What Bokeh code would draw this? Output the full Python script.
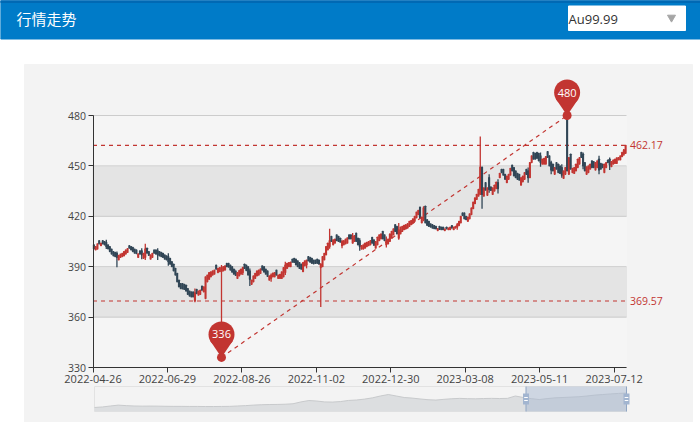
from bokeh.plotting import figure
from bokeh.models import Range1d, LinearAxis, FixedTicker
from bokeh.core.properties import value
from bokeh.embed import file_html
from bokeh.resources import INLINE

tick_labels = ["2022-04-26","2022-06-29","2022-08-26","2022-11-02","2022-12-30","2023-03-08","2023-05-11","2023-07-12"]
tick_every = 42
y_ticks = [330,360,390,420,450,480]
opens = [403,400,400.5,405.5,402.5,405.5,405,404.5,403,402,
400.5,399,398.5,398,394,395.5,396,396.5,397.5,398.5,
402.5,402,401.5,400.5,400,395.5,399.5,399.5,395,395.5,
401,399,394.5,395.5,400,400,399.5,399,398.5,398,
397,396.5,396,395,393,391.5,389,386,382,380,
380,379.5,379,377,375.5,375,375,369.57,376.5,373,
373.5,378.5,375,371,381,382.5,384,385,385.5,391,
386.5,387,387,387.5,388,392,392,391,390,388.5,
387.5,383,384.5,385.5,386.5,391.5,391,390,387.5,379.5,
381,383,384.5,385,386,390.5,390,388.5,387.5,382,
383,384,384,388,383,383,383,384,386.5,389,
390,390,394.5,395,394.5,393.5,392.5,391.5,387,390.5,
391,396,395.5,395,394,394,394.5,394,389.5,390,
394,397,400,402,408,403,404,409,408,407,
402.5,403,403.5,404,409,409,404,405,410,407,
405.5,400.5,400.5,401,402,402.5,403,407.5,406,401,
403,405.5,406.5,411,409,403,403.5,405,407,409,
415,414,407,409.5,411,412,412.5,413,414,415,
416,417,419,421,425.5,416,418,426,418,417,
415.5,415,414.5,414,411.5,414,413.5,413.5,411.5,413.5,
412,412,414.5,412,413,413.5,414.5,416,422,422,
420,417,418.5,421,424.5,427.5,430,432,433,449.3,
432,440,432.5,443,437.5,433,435,436.5,440,443,
448,448,445,440,442,444.5,450.5,449,447,445.5,
445,438.5,440.5,442,448,447,443,452,458,457.5,
458,457.5,456,451,451,451,458.5,456,452,451,
445,452,451,450,449,442.5,445,480,445,457,
446,445.5,447,449,451,458,457,452,445,446,
448,453,452.5,447.5,449,454,451.5,451,446,449,
453.5,454,449.5,451,451.5,451.5,453.5,453.5,455.5,457,457.5]
closes = [400.6,402,403.6,403.5,404,403.5,403,402,400.6,399,
397.5,396.5,396,395.5,396.7,397.5,398,399,400,400.8,
401,400,399,398,397.7,397.7,397.5,397,398,400.6,
398,396.7,397,398,398,397.5,397,396.5,396,395.5,
394.5,394,393,391.5,390,387.5,385,381,378,377,
376.8,376.5,375.5,373.5,372.5,372,372,374.5,374,375.5,
376,376,378,384,385,386.5,387,387.5,388,388.5,
389,389.5,389.5,390,390.5,390,389.7,388,386.7,385.5,
384.8,386.5,387.7,388.5,389.5,389,387.7,385,382.5,382,
384.5,386,387.5,388,388.7,388,386.8,385.5,384.2,384.5,
385,386.2,386.5,385,385,385.5,387,389.5,391,392,
392.5,392.7,392.7,392.5,391,390,389,388.5,392.5,393.5,
394,393.5,392.7,392,391.7,392,392,391.5,391.5,396,
398,402,404,405.6,405,406,406.5,405.5,405,404.6,
405,405.5,406.5,407.2,406.5,406.5,408,408.5,405,403,
402,402.5,403,404,404.5,405,405.6,404,402.7,405,
407.6,409,409.5,406.5,405.5,405.5,406.5,409.5,411,412.6,
411,409.5,412,413.6,414,414.6,415,415.6,417,417.5,
418.5,420,422.5,423.5,419,419.5,425,416,414.6,414,
413.6,413,412.6,412.5,412.7,412.2,412,412,412.5,412.5,
413,413.5,413,413.5,414,415,417,420,420.5,418.5,
418,419.5,421.5,425,428.5,431,433,436,449.3,433,
437,435.5,437,436,435.4,437,438.5,440.3,436.5,445.5,
446,444.5,442,444,445,448.5,447,444,443,442,
441.5,443,444,446,445,443,452,456,454,454,
454.5,453,452,454,454.5,455.6,455,450,447.5,447,
449,448,446,445.5,444.5,447,449,447,455,448,
448.5,449,451,454,455,455,450,447,449.5,450,
451,449,449,452,453,447.5,448,449,451,452,
452,450.5,452.5,453.5,454,454.8,455,456,458,459.5,462.17]
wick_idx  = [13,29,57,72,128,133,146,186,218,219,7,27,36,42,84,88,100,108,120,140,150,165,172,205,245,252,258,264,276,285,291,299,223,228]
wick_low  = [389.7,394,368.9,336,366,400.7,404,417,433,424.5,400.5,394.5,394,390.5,385,378.5,381,385,389,401,399.5,401.5,406,412,440,449.5,445,443,448,445,447.5,456,434,433.5]
wick_high = [399,403.6,377,391,392,412.6,410,426,467.5,449.3,406,401,401,398,390,389,386,393,394,406,407,408,416,416,449,458,453,451,458,456,455,460,445,442]
max_line = 462.17
min_line = 369.57
pin_points = [(72,336),(267,480)]
mini_values = [265,272,285,297,290,285,283,284,283,281,280,280,279,279,278,278,279,280,285,290,297,302,305,306,309,315,340,359,352,340,338,345,360,366,378,395,420,440,420,400,392,380,370,365,375,383,388,384,382,386,388,386,388,420,400,385,372,385,395,400,405,410,420,432,440,448,455,460]

W, H = 700, 422
RED, DARK = "#c23531", "#314656"
FONT = value("Open Sans")
CJK = value("Noto Sans CJK SC")
n = len(closes)
X0, X1 = 92.5, 626.0
PXI = (X1 - X0) / n
Y330, PXY = 367.0, 1.68
to_x = lambda px: -0.5 + (px - X0) / PXI
to_y = lambda py: 330 + (Y330 - py) / PXY

p = figure(width=W, height=H, output_backend="svg", toolbar_location=None,
           x_axis_type=None, y_axis_type=None, min_border=0,
           x_range=Range1d(to_x(0), to_x(W)), y_range=Range1d(to_y(H), to_y(0)),
           background_fill_color="white", border_fill_color="white", outline_line_color=None)
p.grid.visible = False
p.styles = {"position": "absolute", "left": "0", "top": "0"}

# minimap scales
m = len(mini_values)
MX0, MX1 = 94.0, 626.0
mini_k, mini_ref, mini_ref_py = 0.074, 462.0, 392.4
mini_px = lambda px: (px - MX0) / (MX1 - MX0) * (m - 1)
mini_py = lambda py: mini_ref - (py - mini_ref_py) / mini_k
p.extra_x_ranges = {"px": Range1d(0, W), "mini": Range1d(mini_px(0), mini_px(W))}
p.extra_y_ranges = {"px": Range1d(H, 0), "mini": Range1d(mini_py(H), mini_py(0))}
PX = dict(x_range_name="px", y_range_name="px")

# page chrome
p.quad(left=[0], right=[W], top=[38.5], bottom=[0], color="#007bc8", **PX)
p.quad(left=[0], right=[W], top=[2], bottom=[0], color="#0069b4", **PX)
p.quad(left=[24], right=[692], top=[422], bottom=[64], color="#f3f3f3", **PX)
p.quad(left=[568], right=[685], top=[30], bottom=[5.5], color="white", **PX)
p.scatter(x=[671], y=[17], marker="inverted_triangle", size=8, color="#a5a5a5", **PX)
p.text(x=[16], y=[18], text=["行情走势"], text_font=CJK, text_font_size="15px", text_color="white",
       text_baseline="middle", **PX)
p.text(x=[568], y=[18], text=["Au99.99"], text_font=FONT, text_font_size="13px", text_color="#333333",
       text_baseline="middle", **PX)

# split areas and grid lines
for lo, col in zip(y_ticks[:-1], ["#f5f5f5", "#e4e4e4", "#f5f5f5", "#e4e4e4", "#f5f5f5"]):
    p.quad(left=[-0.5], right=[n - 0.5], bottom=[lo], top=[lo + 30], color=col)
p.segment(x0=[-0.5] * 6, x1=[n - 0.5] * 6, y0=y_ticks, y1=y_ticks, line_color="#cccccc", line_width=1)

# mark lines
p.segment(x0=[-0.5, -0.5], x1=[n - 0.5, n - 0.5], y0=[max_line, min_line], y1=[max_line, min_line],
          line_color=RED, line_width=1.2, line_dash="4 4")
(ax, ay), (bx, by) = pin_points
p.segment(x0=[ax], x1=[bx], y0=[ay], y1=[by], line_color=RED, line_width=1.2, line_dash="4 4")

# candles
xs = list(range(n))
hi_b = [max(o, c) for o, c in zip(opens, closes)]
lo_b = [min(o, c) for o, c in zip(opens, closes)]
cols = [RED if c > o else DARK for o, c in zip(opens, closes)]
p.segment(x0=wick_idx, x1=wick_idx, y0=wick_low, y1=wick_high,
          line_color=[cols[i] for i in wick_idx], line_width=1.3)
p.vbar(x=xs, width=0.5, bottom=lo_b, top=hi_b, fill_color=cols, line_color=cols, line_width=1.2)

# mark labels
p.text(x=[n + 1.5, n + 1.5], y=[max_line, min_line], text=[str(max_line), str(min_line)], text_font=FONT,
       text_font_size="10.5px", text_color=RED, text_baseline="middle")

# pins
HEAD_UP, HEAD_R = 23, 13
for px_i, v in pin_points:
    hy = v + HEAD_UP / PXY
    dx = 11.5 / PXI
    p.patch([px_i - dx, px_i + dx, px_i], [v + 17 / PXY, v + 17 / PXY, v], color=RED, line_width=0)
    p.scatter(x=[px_i], y=[hy], size=2 * HEAD_R, color=RED, line_width=0)
    p.scatter(x=[px_i], y=[v], size=9, color=RED, line_width=0)
    p.text(x=[px_i], y=[hy], text=[str(v)], text_font=FONT, text_font_size="11px", text_color="white",
           text_align="center", text_baseline="middle")

# axes
xa = LinearAxis(fixed_location=330, bounds=(-0.5, n - 0.5),
                ticker=FixedTicker(ticks=[i * tick_every - 0.5 for i in range(len(tick_labels))]),
                major_label_overrides={i * tick_every - 0.5: t for i, t in enumerate(tick_labels)})
ya = LinearAxis(fixed_location=-0.5, bounds=(330, 480), ticker=FixedTicker(ticks=y_ticks))
for a in (xa, ya):
    a.axis_line_color = "#333333"
    a.major_tick_line_color = "#333333"
    a.major_tick_out = 5
    a.major_tick_in = 0
    a.minor_tick_line_color = None
    a.major_label_text_color = "#444444"
    a.major_label_text_font = "Open Sans"
    a.major_label_text_font_size = "10.5px"
    a.major_label_standoff = 2
xa.major_label_text_font_size = "11px"
p.add_layout(xa, "below")
p.add_layout(ya, "left")

# data zoom strip
MINI = dict(x_range_name="mini", y_range_name="mini")
mx = list(range(m))
base = mini_py(411)
p.quad(left=[0], right=[m - 1], bottom=[base], top=[mini_py(386)], fill_color="#f3f3f3",
       line_color="#e2e2e2", line_width=1, **MINI)
p.varea(x=mx, y1=[base] * m, y2=mini_values, fill_color="#dcdee0", **MINI)
p.line(x=mx, y=mini_values, line_color="#c8cacc", line_width=1, **MINI)
win_l, win_r = mini_px(525.5), mini_px(626)
p.quad(left=[win_l], right=[win_r], bottom=[base], top=[mini_py(386)], fill_color="#a9bad2",
       fill_alpha=0.5, line_color=None, **MINI)
p.segment(x0=[win_l, win_r], x1=[win_l, win_r], y0=[base, base], y1=[mini_py(386), mini_py(386)],
          line_color="#90a6c4", line_width=1, **MINI)
d = 3 / (MX1 - MX0) * (m - 1)
p.quad(left=[win_l - d, win_r - d], right=[win_l + d, win_r + d], bottom=[mini_py(404)] * 2,
       top=[mini_py(393)] * 2, fill_color="#a2b5d0", line_color=None, **MINI)
for dy in (397, 400):
    p.segment(x0=[win_l - d * 0.6, win_r - d * 0.6], x1=[win_l + d * 0.6, win_r + d * 0.6],
              y0=[mini_py(dy)] * 2, y1=[mini_py(dy)] * 2, line_color="white", line_width=1, **MINI)

open("out.html", "w").write(file_html(p, INLINE))
